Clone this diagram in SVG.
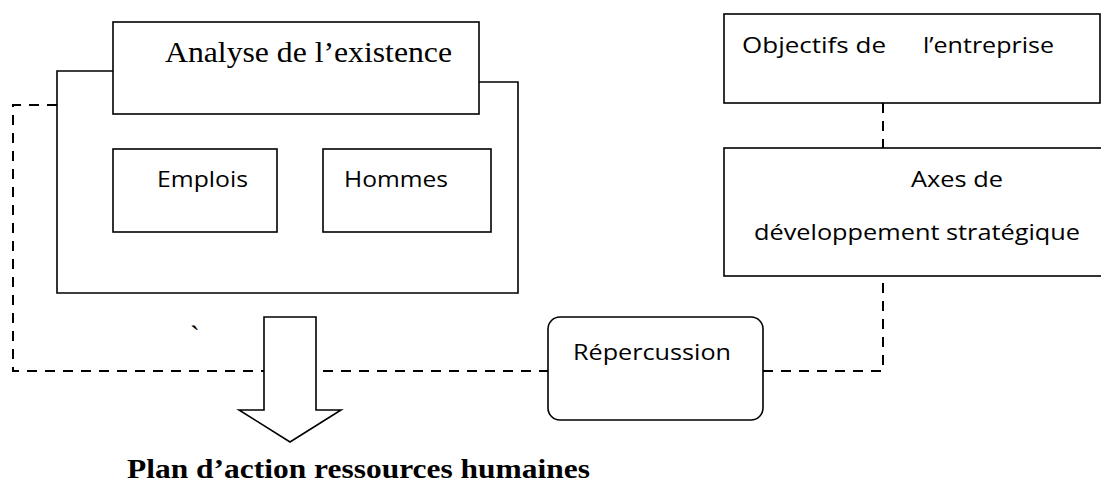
<svg xmlns="http://www.w3.org/2000/svg" width="1101" height="484" viewBox="0 0 1101 484">
  <style>
    .box { fill: #ffffff; stroke: #000000; stroke-width: 1.6; }
    .link { fill: none; stroke: #000000; stroke-width: 2; stroke-dasharray: 10 8; }
    .sans { font-family: "Open Sans", "Noto Sans", "Liberation Sans", sans-serif; font-size: 22px; fill: #000000; }
    .serif { font-family: "Liberation Serif", "Times New Roman", serif; font-size: 29px; fill: #000000; }
    .title { font-family: "Liberation Serif", "Times New Roman", serif; font-size: 27px; font-weight: bold; fill: #000000; }
  </style>
  <rect width="1101" height="484" fill="#ffffff"/>

  <!-- dashed connectors -->
  <g id="connectors">
    <polyline class="link" points="57,105 13,105 13,371 264,371"/>
    <line class="link" x1="323" y1="371" x2="548" y2="371"/>
    <polyline class="link" points="763,371 883,371 883,276"/>
    <line class="link" x1="883" y1="103" x2="883" y2="148"/>
  </g>

  <!-- outer frame of the analysis block -->
  <g id="analyse-frame">
    <polyline class="box" fill="none" points="113,71 57,71 57,293 518,293 518,82 479,82"/>
  </g>

  <g id="analyse">
    <rect class="box" x="113" y="22" width="366" height="92"/>
    <text class="serif" x="165" y="62" textLength="287" lengthAdjust="spacingAndGlyphs">Analyse de l’existence</text>
  </g>

  <g id="emplois">
    <rect class="box" x="113" y="149" width="164" height="83"/>
    <text class="sans" x="157" y="187" textLength="91" lengthAdjust="spacingAndGlyphs">Emplois</text>
  </g>

  <g id="hommes">
    <rect class="box" x="323" y="149" width="168" height="83"/>
    <text class="sans" x="344" y="187" textLength="104" lengthAdjust="spacingAndGlyphs">Hommes</text>
  </g>

  <g id="objectifs">
    <rect class="box" x="724" y="14" width="376" height="89"/>
    <text class="sans" y="53"><tspan x="742" textLength="144" lengthAdjust="spacingAndGlyphs">Objectifs de</tspan><tspan x="923" textLength="131" lengthAdjust="spacingAndGlyphs">l’entreprise</tspan></text>
  </g>

  <g id="axes">
    <rect class="box" x="724" y="148" width="390" height="128"/>
    <text class="sans" x="911" y="187" textLength="92" lengthAdjust="spacingAndGlyphs">Axes de</text>
    <text class="sans" x="754" y="240" textLength="326" lengthAdjust="spacingAndGlyphs">développement stratégique</text>
  </g>

  <g id="repercussion">
    <rect class="box" x="548" y="317" width="215" height="103" rx="12" ry="12"/>
    <text class="sans" x="573" y="360" textLength="158" lengthAdjust="spacingAndGlyphs">Répercussion</text>
  </g>

  <g id="fleche">
    <polygon class="box" points="264,317 316,317 316,410 341,410 290,442 239,410 264,410"/>
  </g>

  <text class="serif" x="190" y="346" font-size="20">`</text>

  <g id="plan">
    <text class="title" x="127" y="478" textLength="463" lengthAdjust="spacingAndGlyphs">Plan d’action ressources humaines</text>
  </g>
</svg>
